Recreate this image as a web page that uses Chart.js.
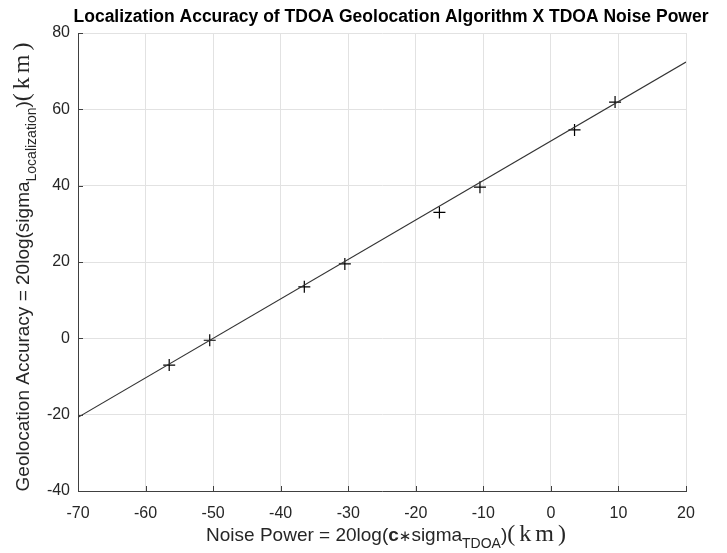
<!DOCTYPE html>
<html>
<head>
<meta charset="utf-8">
<script src="https://cdn.jsdelivr.net/npm/chart.js@4.4.1/dist/chart.umd.min.js"></script>
<style>
  body { margin: 0; background: #fff; }
  canvas { display: block; }
</style>
</head>
<body>
<canvas id="chart" width="727" height="553"></canvas>
<script>
// data
var titleText = 'Localization Accuracy of TDOA Geolocation Algorithm X TDOA Noise Power';
var noisePower = [-56.5, -50.5, -36.5, -30.5, -16.5, -10.5, 3.5, 9.5];
var accuracy = [-7, -0.5, 13.5, 19.5, 33, 39.6, 54.6, 61.9];
var fitX = [-70, 20];
var fitY = [-20.7, 72.4];
var xTicks = [-70, -60, -50, -40, -30, -20, -10, 0, 10, 20];
var yTicks = [-40, -20, 0, 20, 40, 60, 80];

var sans = 'Liberation Sans';
var serif = 'Liberation Serif';

// x label parts, y label parts (text, font, baseline shift, letter spacing)
var xLabel = [
  ['Noise Power = 20log(', '19px ' + sans, 0, 0],
  ['c', 'bold 19px ' + sans, 0, 0],
  ['\u2217', '15px DejaVu Sans', 0, 0],
  ['sigma', '19px ' + sans, 0, 0],
  ['TDOA', '14px ' + sans, 7, 0],
  [')', '19px ' + sans, 0, 0],
  ['(km)', '24px ' + serif, 0, 4]
];
var yLabel = [
  ['Geolocation Accuracy = 20log(sigma', '19px ' + sans, 0, 0],
  ['Localization', '14px ' + sans, 7, 0],
  [')', '19px ' + sans, 0, 0],
  ['(km)', '24px ' + serif, 0, 4]
];

function partsWidth(ctx, parts) {
  var w = 0;
  parts.forEach(function(p) {
    ctx.font = p[1];
    ctx.letterSpacing = p[3] + 'px';
    w += ctx.measureText(p[0]).width;
  });
  return w;
}

function drawParts(ctx, parts, cx, y) {
  var x = cx - partsWidth(ctx, parts) / 2;
  parts.forEach(function(p) {
    ctx.font = p[1];
    ctx.letterSpacing = p[3] + 'px';
    ctx.fillText(p[0], x, y + p[2]);
    x += ctx.measureText(p[0]).width;
  });
  ctx.letterSpacing = '0px';
}

var labelPlugin = {
  id: 'labels',
  afterDraw: function(chart) {
    var ctx = chart.ctx, a = chart.chartArea;
    var xs = chart.scales.x, ys = chart.scales.y;
    ctx.save();
    // inward tick marks
    ctx.strokeStyle = '#404040';
    ctx.lineWidth = 1;
    ctx.beginPath();
    xTicks.forEach(function(v) {
      var px = Math.round(xs.getPixelForValue(v)) + 0.5;
      ctx.moveTo(px, a.bottom); ctx.lineTo(px, a.bottom - 5);
    });
    yTicks.forEach(function(v) {
      var py = Math.round(ys.getPixelForValue(v)) + 0.5;
      ctx.moveTo(a.left, py); ctx.lineTo(a.left + 5, py);
    });
    ctx.stroke();

    ctx.fillStyle = '#000';
    ctx.textAlign = 'center';
    ctx.textBaseline = 'alphabetic';
    ctx.font = 'bold 17.5px ' + sans;
    ctx.fillText(titleText, (a.left + a.right) / 2 + 9, 22);

    ctx.textAlign = 'left';
    ctx.fillStyle = '#262626';
    drawParts(ctx, xLabel, (a.left + a.right) / 2 + 6, 541);

    ctx.translate(29, (a.top + a.bottom) / 2 + 3);
    ctx.rotate(-Math.PI / 2);
    drawParts(ctx, yLabel, 0, 0);
    ctx.restore();
  }
};

var tickFont = { family: sans, size: 16 };

new Chart(document.getElementById('chart'), {
  type: 'scatter',
  data: {
    datasets: [{
      type: 'line',
      data: fitX.map(function(x, i) { return { x: x, y: fitY[i] }; }),
      borderColor: '#333',
      borderWidth: 1.2,
      pointRadius: 0,
      fill: false
    }, {
      data: noisePower.map(function(x, i) { return { x: x, y: accuracy[i] }; }),
      pointStyle: 'cross',
      pointRadius: 6,
      borderColor: '#000',
      backgroundColor: '#000',
      borderWidth: 1.2
    }]
  },
  options: {
    responsive: false,
    animation: false,
    layout: { padding: { top: 33, right: 41, left: 0, bottom: 0 } },
    plugins: { legend: { display: false }, tooltip: { enabled: false } },
    scales: {
      x: {
        type: 'linear', min: -70, max: 20,
        afterBuildTicks: function(s) { s.ticks = xTicks.map(function(v) { return { value: v }; }); },
        afterFit: function(s) { s.height = 62; },
        grid: { color: '#e2e2e2', drawTicks: false },
        border: { color: '#404040' },
        ticks: { padding: 13, font: tickFont, color: '#262626', maxRotation: 0, autoSkip: false }
      },
      y: {
        type: 'linear', min: -40, max: 80,
        afterBuildTicks: function(s) { s.ticks = yTicks.map(function(v) { return { value: v }; }); },
        afterFit: function(s) { s.width = 78; },
        grid: { color: '#e2e2e2', drawTicks: false },
        border: { color: '#404040' },
        ticks: { padding: 8, font: tickFont, color: '#262626', autoSkip: false }
      }
    }
  },
  plugins: [labelPlugin]
});
</script>
</body>
</html>
